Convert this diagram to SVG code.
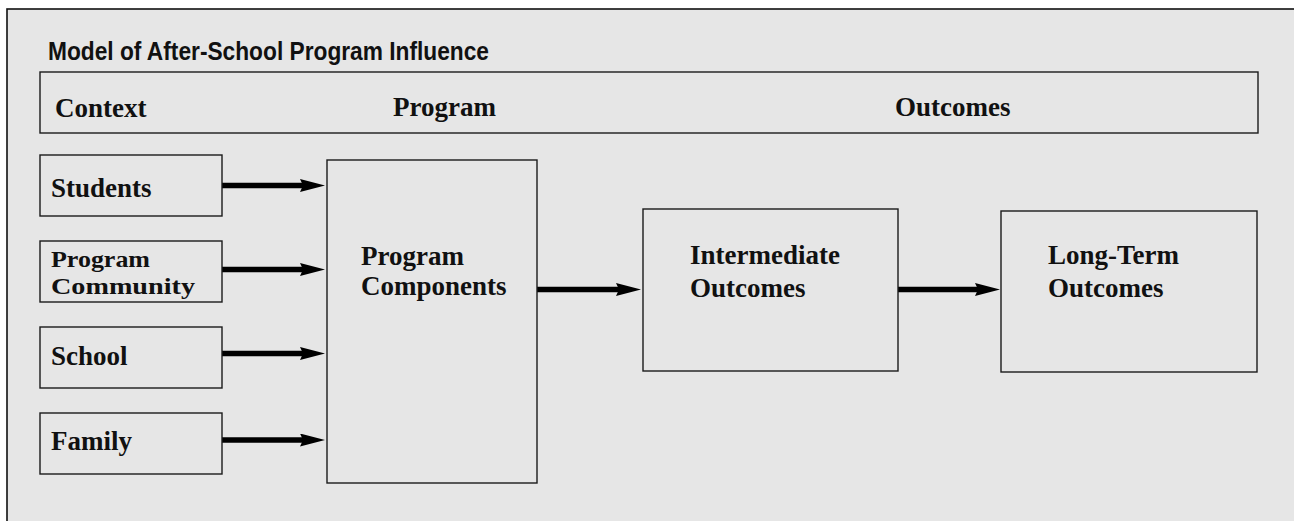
<svg xmlns="http://www.w3.org/2000/svg" width="1294" height="521" viewBox="0 0 1294 521">
<style>
.box{fill:#e6e6e6;stroke:#1a1a1a;stroke-width:1.4}
.lbl{font-family:"Liberation Serif","Times New Roman",serif;font-weight:bold;font-size:27px;fill:#111}
.sm{font-size:24px}
.ttl{font-family:"Liberation Sans Narrow","Liberation Sans",Arial,sans-serif;font-weight:bold;font-size:25px;fill:#111}
.arr{stroke:#000;stroke-width:5.5;fill:none;marker-end:url(#ah)}
</style>
<defs>
<marker id="ah" markerUnits="userSpaceOnUse" viewBox="0 0 25 13" markerWidth="25" markerHeight="13" refX="3" refY="6.5" orient="auto">
<path d="M0,0 L25,6.5 L0,13 L3,6.5 z" fill="#000"/>
</marker>
</defs>
<rect x="0" y="0" width="1294" height="521" fill="#ffffff"/>
<rect x="7" y="9" width="1300" height="530" fill="#e6e6e6" stroke="#111" stroke-width="1.6"/>
<text class="ttl" x="48" y="60" textLength="441" lengthAdjust="spacingAndGlyphs">Model of After-School Program Influence</text>
<g id="header">
<rect class="box" x="40" y="72" width="1218" height="61"/>
<text class="lbl" x="55" y="117">Context</text>
<text class="lbl" x="393" y="116">Program</text>
<text class="lbl" x="895" y="116">Outcomes</text>
</g>
<g id="connectors">
<line class="arr" x1="222" y1="185.5" x2="303" y2="185.5"/>
<line class="arr" x1="222" y1="269.5" x2="303" y2="269.5"/>
<line class="arr" x1="222" y1="353.5" x2="303" y2="353.5"/>
<line class="arr" x1="222" y1="440" x2="303" y2="440"/>
<line class="arr" x1="537" y1="289.5" x2="619" y2="289.5"/>
<line class="arr" x1="898" y1="289.5" x2="978" y2="289.5"/>
</g>
<g id="students">
<rect class="box" x="40" y="155" width="182" height="61"/>
<text class="lbl" x="51" y="197">Students</text>
</g>
<g id="community">
<rect class="box" x="40" y="241" width="182" height="61"/>
<text class="lbl sm" x="51" y="267" textLength="99" lengthAdjust="spacingAndGlyphs">Program</text>
<text class="lbl sm" x="51" y="294" textLength="144" lengthAdjust="spacingAndGlyphs">Community</text>
</g>
<g id="school">
<rect class="box" x="40" y="327" width="182" height="61"/>
<text class="lbl" x="51" y="365">School</text>
</g>
<g id="family">
<rect class="box" x="40" y="413" width="182" height="61"/>
<text class="lbl" x="51" y="450">Family</text>
</g>
<g id="components">
<rect class="box" x="327" y="160" width="210" height="323"/>
<text class="lbl" x="361" y="265">Program</text>
<text class="lbl" x="361" y="295">Components</text>
</g>
<g id="intermediate">
<rect class="box" x="643" y="209" width="255" height="162"/>
<text class="lbl" x="690" y="264">Intermediate</text>
<text class="lbl" x="690" y="297">Outcomes</text>
</g>
<g id="longterm">
<rect class="box" x="1001" y="211" width="256" height="161"/>
<text class="lbl" x="1048" y="264">Long-Term</text>
<text class="lbl" x="1048" y="297">Outcomes</text>
</g>
</svg>
